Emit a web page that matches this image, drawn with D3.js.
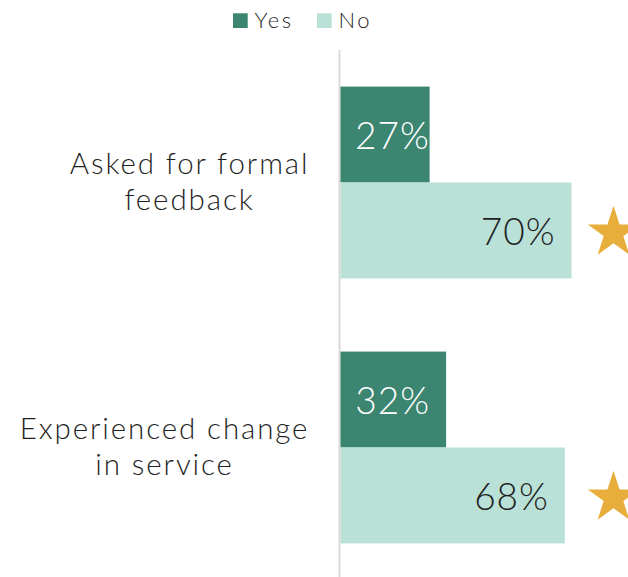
<!DOCTYPE html>
<html>
<head>
<meta charset="utf-8">
<script src="https://cdn.jsdelivr.net/npm/d3@7"></script>
<style>
  html, body { margin: 0; padding: 0; background: #ffffff; }
  svg { display: block; }
  text { font-family: Lato, "Open Sans", sans-serif; font-weight: 300; }
</style>
</head>
<body>
<svg id="chart" width="628" height="577"></svg>
<script>
// Survey results: share of respondents answering Yes / No
const categories = [
  ["Asked for formal", "feedback"],
  ["Experienced change", "in service"]
];
const categoryKeys = ["Asked for formal feedback", "Experienced change in service"];
const seriesNames = ["Yes", "No"];
const yesValues = [0.27, 0.32];
const noValues = [0.70, 0.68];
// Series value flagged with a star marker (significant difference)
const starred = [true, true];

const colors = { Yes: "#3b8571", No: "#b9e1d7" };
const labelColors = { Yes: "#ffffff", No: "#1f1f1f" };
const starColor = "#e7ae3b";

const W = 628, H = 577;
const svg = d3.select("#chart");

const x = d3.scaleLinear().domain([0, 1]).range([340.5, 670.5]);
const y = d3.scaleBand()
  .domain(categoryKeys)
  .range([50, 580])
  .paddingInner(0.276)
  .paddingOuter(0.138);
const ySub = d3.scaleBand().domain(seriesNames).range([0, y.bandwidth()]);

const rows = categoryKeys.map((k, i) => ({
  key: k,
  lines: categories[i],
  values: [
    { series: "Yes", value: yesValues[i] },
    { series: "No", value: noValues[i] }
  ],
  star: starred[i]
}));

// Vertical baseline axis
svg.append("line")
  .attr("x1", x(0) - 1).attr("x2", x(0) - 1)
  .attr("y1", 50).attr("y2", H)
  .attr("stroke", "#d9d9d9").attr("stroke-width", 2);

const groups = svg.selectAll("g.row")
  .data(rows).join("g")
  .attr("class", "row")
  .attr("transform", d => `translate(0,${y(d.key)})`);

// Bars
groups.selectAll("rect")
  .data(d => d.values).join("rect")
  .attr("x", x(0))
  .attr("y", d => ySub(d.series))
  .attr("width", d => x(d.value) - x(0))
  .attr("height", ySub.bandwidth())
  .attr("fill", d => colors[d.series]);

// Value labels, placed at the inside end of each bar
const valueFont = 37;
const valueSpacing = 1;
groups.selectAll("text.value")
  .data(d => d.values).join("text")
  .attr("class", "value")
  .attr("font-size", valueFont)
  .attr("letter-spacing", valueSpacing)
  .attr("fill", d => labelColors[d.series])
  .attr("y", d => ySub(d.series) + ySub.bandwidth() / 2 + 14.5)
  .text(d => d3.format(".0%")(d.value))
  .each(function (d) {
    const w = this.getComputedTextLength() - valueSpacing;
    const start = Math.max(x(0) + 14.5, x(d.value) - 17 - w);
    d3.select(this).attr("x", start);
  });

// Star markers next to the No bar
const starSize = 27 * 27 / 0.8908130915292852;
groups.filter(d => d.star)
  .append("path")
  .attr("d", d3.symbol(d3.symbolStar, starSize))
  .attr("fill", starColor)
  .attr("transform", d => {
    const cy = ySub("No") + ySub.bandwidth() / 2 + 2.4;
    return `translate(613.5,${cy})`;
  });

// Category labels: block right-aligned, lines centred within block
const catFont = 29.5;
const catSpacing = 1.9;
groups.each(function (d) {
  const g = d3.select(this);
  const t = g.append("g").attr("class", "cat");
  const texts = t.selectAll("text").data(d.lines).join("text")
    .attr("font-size", catFont)
    .attr("letter-spacing", catSpacing)
    .attr("fill", "#1f1f1f")
    .attr("text-anchor", "middle")
    .attr("y", (l, i) => y.bandwidth() / 2 - 8 + i * 36)
    .text(l => l);
  let maxW = 0;
  texts.each(function () { maxW = Math.max(maxW, this.getComputedTextLength() - catSpacing); });
  texts.attr("x", 307.5 - maxW / 2 + catSpacing / 2);
});

// Legend
const legend = svg.append("g").attr("class", "legend");
const legendX = [233, 317];
seriesNames.forEach((s, i) => {
  legend.append("rect")
    .attr("x", legendX[i]).attr("y", 13.3)
    .attr("width", 14.7).attr("height", 14.7)
    .attr("fill", colors[s]);
  legend.append("text")
    .attr("x", legendX[i] + 21.5).attr("y", 28)
    .attr("font-size", 22)
    .attr("letter-spacing", 2.5)
    .attr("fill", "#262626")
    .text(s);
});
</script>
</body>
</html>
